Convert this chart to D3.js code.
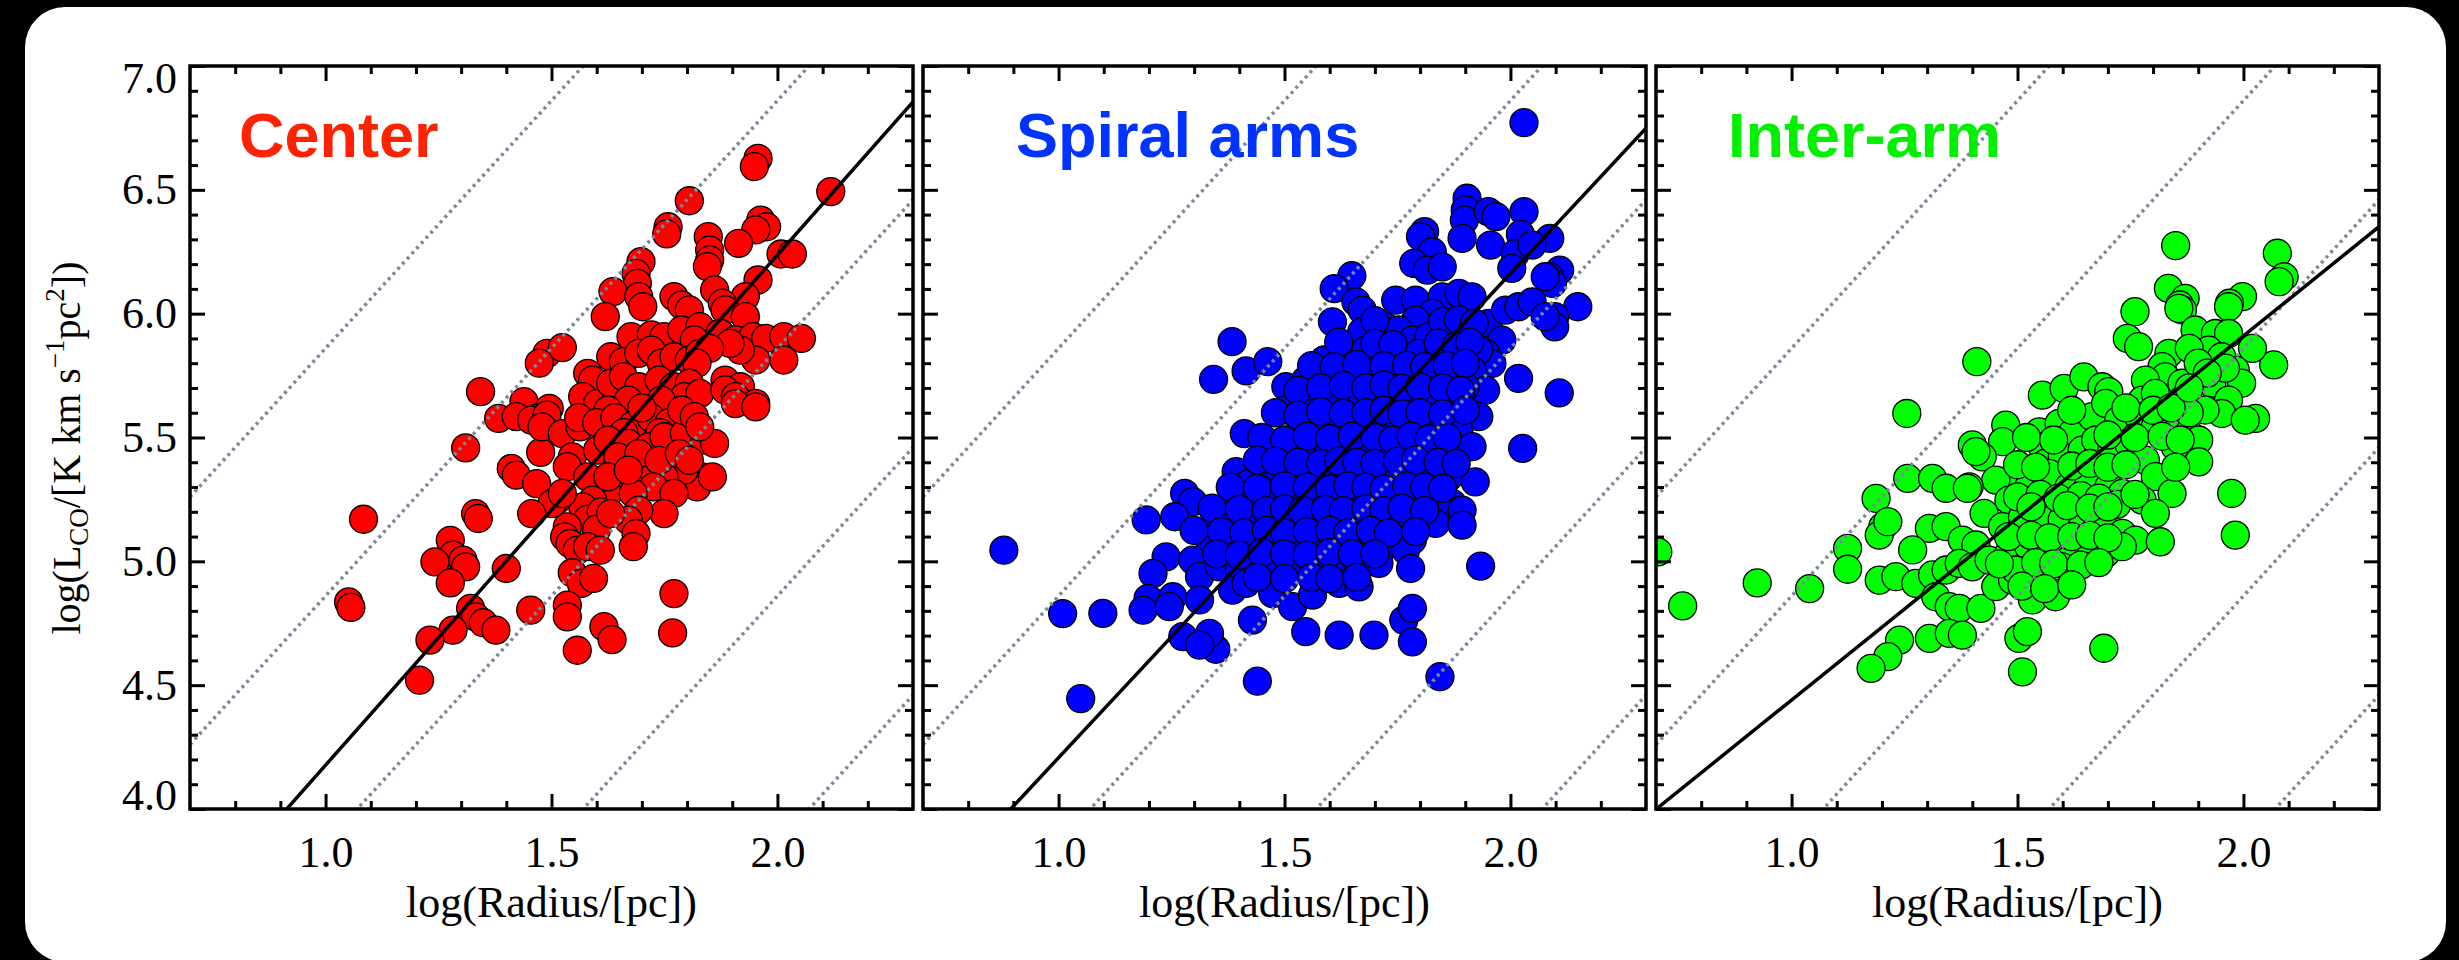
<!DOCTYPE html>
<html>
<head>
<meta charset="utf-8">
<script src="https://cdn.jsdelivr.net/npm/d3@7"></script>
<style>
  body { margin: 0; background: #000; }
</style>
</head>
<body>
<div id="chart"></div>
<script>
// ---- data: [log R, log L_CO] ----
const centerPts = [
  [1.957,6.627],[1.949,6.594],[2.118,6.493],[1.805,6.456],[1.758,6.351],[1.755,6.322],[1.963,6.378],[1.976,6.351],
  [1.952,6.338],[1.914,6.284],[1.847,6.311],[1.850,6.257],[1.850,6.217],[1.845,6.190],[2.008,6.241],[2.033,6.241],
  [1.698,6.210],[1.687,6.163],[1.690,6.122],[1.957,6.136],[1.861,6.096],[1.636,6.089],[1.693,6.069],[1.702,6.028],
  [1.929,6.069],[1.878,6.042],[1.884,6.015],[1.771,6.069],[1.788,6.035],[1.805,6.015],[1.619,5.988],[1.929,5.988],
  [1.676,5.907],[1.721,5.914],[1.749,5.907],[1.788,5.934],[1.828,5.948],[1.816,5.894],[1.873,5.921],[1.907,5.894],
  [1.946,5.907],[1.974,5.900],[2.014,5.907],[2.053,5.900],[2.014,5.813],[1.952,5.813],[1.918,5.853],[1.895,5.880],
  [1.631,5.826],[1.659,5.806],[1.693,5.840],[1.721,5.853],[1.743,5.800],[1.771,5.826],[1.805,5.813],[1.828,5.840],
  [1.850,5.860],[1.822,5.800],[1.490,5.840],[1.473,5.800],[1.524,5.863],
  [1.580,5.759],[1.591,5.732],[1.569,5.665],[1.602,5.638],[1.631,5.719],[1.659,5.746],[1.693,5.705],[1.738,5.732],
  [1.771,5.705],[1.805,5.719],[1.794,5.665],[1.828,5.678],[1.743,5.651],[1.670,5.651],[1.625,5.611],
  [1.884,5.732],[1.918,5.705],[1.884,5.692],[1.907,5.665],[1.952,5.638],[1.343,5.685],
  [1.439,5.645],[1.495,5.618],[1.383,5.577],[1.422,5.584],[1.467,5.577],[1.484,5.544],[1.310,5.458],[1.476,5.440],
  [1.907,5.637],[1.952,5.624],[1.456,5.570],[1.490,5.590],[1.479,5.543],[1.524,5.516],[1.563,5.543],
  [1.560,5.580],[1.600,5.560],[1.640,5.580],[1.680,5.550],[1.720,5.580],[1.760,5.560],[1.700,5.620],[1.660,5.520],[1.740,5.520],
  [1.411,5.375],[1.422,5.348],
  [1.546,5.422],[1.535,5.382],[1.580,5.341],[1.602,5.449],[1.625,5.489],[1.670,5.476],[1.715,5.462],[1.749,5.503],
  [1.794,5.516],[1.839,5.489],[1.833,5.341],[1.822,5.301],[1.794,5.368],[1.749,5.341],[1.693,5.382],[1.659,5.314],
  [1.625,5.274],[1.591,5.247],[1.569,5.220],[1.647,5.422],[1.693,5.435],[1.738,5.408],[1.783,5.435],[1.726,5.301],
  [1.681,5.274],[1.771,5.274],[1.625,5.341],[1.670,5.368],[1.805,5.408],[1.861,5.476],[1.856,5.341],
  [1.788,5.611],[1.816,5.584],[1.828,5.543],
  [1.467,5.314],[1.512,5.247],[1.501,5.233],[1.456,5.193],[1.524,5.274],[1.580,5.170],[1.610,5.200],[1.600,5.130],
  [1.749,5.193],[1.332,5.193],[1.338,5.173],[1.693,5.207],[1.670,5.166],[1.631,5.193],[1.084,5.170],
  [1.535,5.139],[1.529,5.099],[1.541,5.072],[1.557,5.045],[1.580,5.059],[1.608,5.045],[1.687,5.112],[1.681,5.059],
  [1.276,5.085],[1.282,5.025],[1.242,4.998],[1.304,5.005],[1.310,4.978],[1.276,4.913],[1.400,4.971],
  [1.546,4.954],[1.566,4.911],[1.593,4.931],[1.771,4.870],[1.051,4.836],[1.056,4.814],
  [1.321,4.810],[1.332,4.776],[1.349,4.752],[1.377,4.722],[1.282,4.722],[1.231,4.682],[1.454,4.803],
  [1.535,4.823],[1.535,4.776],[1.616,4.736],[1.634,4.684],[1.768,4.711],[1.557,4.641],[1.208,4.520]
];

const spiralPts = [
  [2.030,6.771],[1.904,6.466],[1.900,6.419],[1.898,6.378],[1.951,6.412],[1.968,6.392],[2.030,6.412],[1.810,6.331],
  [2.022,6.320],[2.087,6.304],[2.109,6.176],[2.087,6.149],[2.093,6.122],[2.149,6.028],[2.098,5.988],[2.098,5.947],
  [2.108,5.680],[0.879,5.045],[1.009,4.789],[1.440,4.516],[1.844,4.534],[1.049,4.446],[1.348,4.645],
  [1.801,6.311],[1.827,6.250],[1.786,6.203],[1.816,6.176],[1.849,6.189],[1.893,6.304],[1.956,6.277],[2.011,6.243],
  [2.003,6.183],[2.048,6.277],[2.077,6.149],
  [1.384,5.887],[1.343,5.735],[1.415,5.769],[1.463,5.806],[1.649,6.153],[1.610,6.101],[1.658,6.048],[1.672,6.014],
  [1.606,5.967],[1.671,5.927],
  [1.746,6.055],[1.790,6.055],[1.849,6.068],[1.886,6.082],[1.915,6.068],[1.827,6.001],[1.790,5.974],[1.952,5.961],
  [1.989,6.014],[2.018,6.028],[2.048,6.048],[2.077,5.988],[1.981,5.893],[1.945,5.840],[1.959,5.799],[2.018,5.739],
  [2.027,5.456],
  [1.724,5.947],[1.753,5.934],[1.783,5.893],[1.819,5.907],[1.864,5.934],[1.900,5.907],[1.930,5.853],
  [1.588,5.813],[1.636,5.826],[1.680,5.853],[1.716,5.866],[1.753,5.826],[1.797,5.840],[1.842,5.853],[1.886,5.826],
  [1.915,5.772],[1.945,5.691],
  [1.503,5.705],[1.547,5.732],[1.621,5.772],[1.658,5.745],[1.702,5.772],[1.739,5.759],[1.783,5.745],[1.827,5.759],
  [1.871,5.745],[1.900,5.705],
  [1.503,5.611],[1.555,5.597],[1.606,5.665],[1.650,5.638],[1.694,5.665],[1.739,5.665],[1.783,5.651],[1.827,5.624],
  [1.871,5.651],[1.930,5.584],
  [1.474,5.476],[1.525,5.503],[1.569,5.530],[1.621,5.543],[1.665,5.557],[1.709,5.557],[1.753,5.530],[1.797,5.557],
  [1.842,5.530],[1.886,5.530],[1.915,5.463],
  [1.411,5.516],[1.503,5.395],[1.547,5.422],[1.599,5.449],[1.643,5.463],[1.687,5.449],[1.724,5.409],[1.768,5.449],
  [1.812,5.463],[1.856,5.449],
  [1.393,5.362],[1.422,5.315],[1.459,5.341],[1.488,5.368],[1.532,5.341],[1.577,5.368],[1.621,5.315],[1.665,5.355],
  [1.709,5.315],[1.753,5.341],[1.797,5.368],[1.834,5.368],[1.864,5.341],[1.922,5.321],
  [1.393,5.261],[1.429,5.220],[1.474,5.274],[1.518,5.247],[1.562,5.261],[1.606,5.247],[1.650,5.288],[1.694,5.234],
  [1.739,5.274],[1.783,5.261],[1.827,5.261],[1.871,5.234],[1.893,5.207],
  [1.279,5.274],[1.297,5.241],[1.194,5.167],[1.257,5.180],[1.349,5.180],[1.393,5.180],[1.437,5.153],[1.481,5.180],
  [1.532,5.153],[1.577,5.180],[1.621,5.167],[1.665,5.180],[1.709,5.153],[1.753,5.180],[1.797,5.180],[1.834,5.153],
  [1.893,5.146],
  [1.334,5.086],[1.385,5.099],[1.429,5.059],[1.474,5.072],[1.518,5.086],[1.562,5.059],[1.606,5.099],[1.650,5.072],
  [1.694,5.099],[1.739,5.072],[1.783,5.086],
  [1.238,5.018],[1.209,4.951],[1.297,5.005],[1.312,4.938],[1.356,4.978],[1.400,4.965],[1.444,4.992],[1.488,4.992],
  [1.532,4.978],[1.577,4.992],[1.621,4.978],[1.665,4.978],[1.709,4.992],[1.768,5.045],[1.779,4.971],[1.934,4.981],
  [1.198,4.850],[1.187,4.803],[1.253,4.857],[1.245,4.817],[1.312,4.844],[1.385,4.884],[1.415,4.911],[1.474,4.870],
  [1.518,4.817],[1.562,4.864],[1.621,4.911],[1.665,4.897],
  [1.098,4.790],[1.429,4.763],[1.547,4.716],[1.621,4.702],[1.698,4.702],[1.764,4.763],[1.783,4.810],[1.783,4.675],
  [1.275,4.696],[1.334,4.709],[1.312,4.662],
  // dense core, in between the rows above
  [1.700,5.972],[1.850,5.968],[1.885,5.975],[1.920,5.962],
  [1.620,5.885],[1.700,5.880],[1.740,5.875],[1.840,5.882],[1.880,5.870],[1.910,5.885],
  [1.560,5.790],[1.610,5.785],[1.660,5.795],[1.720,5.790],[1.770,5.792],[1.810,5.786],[1.860,5.790],[1.900,5.800],
  [1.530,5.690],[1.580,5.700],[1.630,5.710],[1.680,5.700],[1.720,5.712],[1.760,5.698],[1.800,5.705],[1.850,5.700],[1.890,5.690],
  [1.480,5.600],[1.530,5.590],[1.580,5.605],[1.630,5.598],[1.680,5.600],[1.720,5.610],[1.760,5.595],[1.800,5.600],[1.850,5.595],[1.900,5.610],
  [1.450,5.500],[1.500,5.490],[1.550,5.505],[1.600,5.495],[1.650,5.505],[1.700,5.500],[1.740,5.490],[1.780,5.505],[1.820,5.495],[1.860,5.500],
  [1.440,5.410],[1.480,5.405],[1.530,5.400],[1.580,5.395],[1.620,5.405],[1.660,5.400],[1.700,5.395],[1.750,5.405],[1.790,5.410],[1.840,5.400],[1.880,5.395],
  [1.380,5.300],[1.440,5.295],[1.500,5.305],[1.550,5.300],[1.600,5.292],[1.640,5.305],[1.680,5.300],[1.720,5.292],[1.770,5.305],[1.810,5.300],[1.850,5.295],
  [1.340,5.215],[1.400,5.210],[1.460,5.205],[1.500,5.212],[1.540,5.205],[1.590,5.210],[1.630,5.205],[1.680,5.212],[1.720,5.205],[1.760,5.215],[1.810,5.205],
  [1.300,5.125],[1.360,5.120],[1.410,5.115],[1.460,5.125],[1.500,5.115],[1.550,5.120],[1.600,5.125],[1.640,5.115],[1.690,5.125],[1.730,5.115],[1.790,5.120],
  [1.350,5.030],[1.400,5.025],[1.450,5.035],[1.500,5.030],[1.550,5.025],[1.600,5.035],[1.650,5.030],[1.700,5.030],
  [1.440,4.935],[1.500,4.930],[1.560,4.935],[1.600,4.930],[1.660,4.935]
];

const interPts = [
  [1.850,6.275],[2.075,6.244],[2.090,6.149],[2.079,6.129],[1.834,6.102],[1.871,6.062],[1.859,6.035],[1.865,6.015],
  [1.998,6.069],[1.969,6.042],[2.067,5.793],[2.027,5.577],[2.020,5.860],[0.704,5.038],[0.759,4.820],[0.924,4.913],
  [1.040,4.890],
  [1.410,5.806],[1.255,5.597],[1.760,6.008],[1.857,6.021],[1.967,6.028],[1.743,5.900],[1.768,5.867],[1.893,5.934],
  [1.938,5.920],[1.967,5.920],[1.835,5.840],[1.820,5.786],[1.827,5.745],[1.864,5.719],[1.923,5.853],[1.952,5.826],
  [1.982,5.772],[1.996,5.719],[1.930,5.719],[1.967,5.651],[1.952,5.597],[1.915,5.611],[2.004,5.570],
  [1.555,5.671],[1.603,5.698],[1.647,5.745],[1.687,5.705],[1.702,5.685],[1.783,5.732],[1.776,5.651],[1.805,5.678],
  [1.864,5.651],
  [1.474,5.550],[1.467,5.483],[1.400,5.470],[1.422,5.422],[1.408,5.443],[1.548,5.523],[1.592,5.557],[1.621,5.517],
  [1.665,5.584],[1.695,5.638],[1.724,5.570],[1.768,5.584],[1.805,5.544],[1.842,5.570],[1.879,5.517],[1.901,5.490],
  [1.901,5.402],[1.849,5.463],
  [1.496,5.355],[1.452,5.328],[1.393,5.301],[1.555,5.463],[1.562,5.396],[1.599,5.422],[1.643,5.449],[1.673,5.490],
  [1.709,5.449],[1.746,5.476],[1.783,5.409],[1.805,5.342],[1.842,5.274],
  [1.257,5.335],[1.312,5.335],[1.342,5.295],[1.389,5.295],[1.426,5.194],[1.481,5.247],[1.525,5.301],[1.570,5.355],
  [1.614,5.301],[1.658,5.315],[1.702,5.301],[1.732,5.274],[1.776,5.247],[1.805,5.194],[1.974,5.274],
  [1.187,5.254],[1.202,5.140],[1.194,5.106],[1.213,5.160],[1.305,5.133],[1.342,5.140],[1.378,5.086],[1.408,5.066],
  [1.467,5.140],[1.511,5.180],[1.555,5.194],[1.599,5.167],[1.643,5.140],[1.687,5.167],[1.732,5.113],[1.761,5.086],
  [1.816,5.079],[1.982,5.106],
  [1.124,5.052],[1.124,4.968],[1.194,4.924],[1.231,4.938],[1.268,5.046],[1.275,4.911],[1.312,4.945],[1.342,4.965],
  [1.371,4.992],[1.400,4.978],[1.437,5.005],[1.481,5.032],[1.525,5.059],[1.570,5.032],[1.614,5.005],[1.665,5.046],
  [1.695,5.032],[1.732,5.059],
  [1.319,4.857],[1.349,4.817],[1.371,4.810],[1.419,4.810],[1.452,4.898],[1.489,4.924],[1.533,4.844],[1.584,4.857],
  [1.496,4.965],[1.555,4.951],[1.599,4.978],
  [1.239,4.682],[1.213,4.615],[1.176,4.568],[1.305,4.689],[1.349,4.709],[1.378,4.702],[1.503,4.689],[1.522,4.716],
  [1.691,4.649],[1.511,4.554],
  // dense core
  [1.620,5.610],[1.740,5.620],[1.800,5.610],[1.880,5.600],[1.840,5.620],
  [1.520,5.500],[1.580,5.490],[1.700,5.510],[1.760,5.500],[1.820,5.505],[1.860,5.490],
  [1.500,5.390],[1.540,5.380],[1.620,5.385],[1.660,5.395],[1.700,5.380],[1.740,5.390],[1.850,5.380],
  [1.500,5.260],[1.550,5.270],[1.590,5.255],[1.640,5.265],[1.680,5.255],[1.720,5.230],[1.760,5.270],
  [1.530,5.220],[1.610,5.225],[1.660,5.215],[1.700,5.220],
  [1.480,5.100],[1.530,5.105],[1.570,5.095],[1.620,5.100],[1.660,5.105],[1.700,5.095],
  [1.460,4.990],[1.540,4.995],[1.580,4.990],[1.640,4.985],[1.680,4.995],
  [1.510,4.900],[1.560,4.890],[1.620,4.905],
  [1.880,5.860],[1.900,5.800],[1.960,5.780],[1.920,5.760],[1.880,5.700]
];

const panelNames = ['Center', 'Spiral arms', 'Inter-arm'];
const fitSlopes = [2.06, 1.955, 1.47];
const fitIntercepts = [2.117, 2.252, 2.97];
const constIntercepts = [-0.14, 0.86, 1.86, 2.86, 3.86]; // dotted lines, slope 2
const xMajor = [1.0, 1.5, 2.0];
const yMajor = [4.0, 4.5, 5.0, 5.5, 6.0, 6.5, 7.0];

// ---- layout ----
const W = 723, H = 743, TOP = 66;
const panelLeft = [190, 923, 1656];
const labelDx = [49, 93, 72];
const fills = ['#ff0000', '#0000ff', '#00ff00'];
const textColors = ['#ff2200', '#0033ff', '#00f000'];
const serif = 'Liberation Serif, Times New Roman, serif';

const svg = d3.select('#chart').append('svg').attr('width', 2459).attr('height', 960);
svg.append('rect').attr('width', 2459).attr('height', 960).attr('fill', '#000');
svg.append('rect').attr('x', 25).attr('y', 7).attr('width', 2421).attr('height', 955)
  .attr('rx', 40).attr('fill', '#fff');

const x = d3.scaleLinear().domain([0.7, 2.3]).range([0, W]);
const y = d3.scaleLinear().domain([4.0, 7.0]).range([H, 0]);

const xMinor = d3.range(8, 23).map(d => d / 10).filter(v => !xMajor.some(m => Math.abs(m - v) < 1e-6));
const yMinor = d3.range(40, 71).map(d => d / 10).filter(v => !yMajor.some(m => Math.abs(m - v) < 1e-6));

const line = d3.line().x(d => x(d[0])).y(d => y(d[1]));
const panels = [centerPts, spiralPts, interPts];

// axis factories: bottom, top, left, right
const axisDefs = [
  [() => d3.axisBottom(x), `translate(0,${H})`, xMajor, xMinor],
  [() => d3.axisTop(x), 'translate(0,0)', xMajor, xMinor],
  [() => d3.axisLeft(y), 'translate(0,0)', yMajor, yMinor],
  [() => d3.axisRight(y), `translate(${W},0)`, yMajor, yMinor]
];

panels.forEach((pts, k) => {
  const g = svg.append('g').attr('transform', `translate(${panelLeft[k]},${TOP})`);
  g.append('clipPath').attr('id', 'clip' + k).append('rect').attr('width', W).attr('height', H);
  const plot = g.append('g').attr('clip-path', `url(#clip${k})`);

  plot.selectAll('circle').data(pts).join('circle')
    .attr('cx', d => x(d[0])).attr('cy', d => y(d[1])).attr('r', 14)
    .attr('fill', fills[k]).attr('stroke', '#000').attr('stroke-width', 1.3);

  constIntercepts.forEach(b => {
    plot.append('path')
      .attr('d', line([[0.7, 2 * 0.7 + b], [2.3, 2 * 2.3 + b]]))
      .attr('stroke', '#7a8898').attr('stroke-width', 3.5)
      .attr('stroke-dasharray', '3 4').attr('fill', 'none');
  });

  plot.append('path')
    .attr('d', line([[0.7, fitSlopes[k] * 0.7 + fitIntercepts[k]], [2.3, fitSlopes[k] * 2.3 + fitIntercepts[k]]]))
    .attr('stroke', '#000').attr('stroke-width', 3.5).attr('fill', 'none');

  axisDefs.forEach(([mk, tr, major, minor], i) => {
    const gm = g.append('g').attr('transform', tr)
      .call(mk().tickValues(minor).tickSize(-8).tickFormat(''));
    gm.select('.domain').remove();
    gm.selectAll('line').attr('stroke-width', 3);

    const showLabels = i === 0 || (i === 2 && k === 0);
    const ga = g.append('g').attr('transform', tr)
      .call(mk().tickValues(major).tickSize(-15)
        .tickPadding(i === 0 ? 27 : 13)
        .tickFormat(showLabels ? d3.format('.1f') : ''))
      .attr('font-family', serif).attr('font-size', 44);
    ga.select('.domain').remove();
    ga.selectAll('line').attr('stroke-width', 3);
    ga.selectAll('text').attr('fill', '#000');
    if (i === 2) {
      ga.selectAll('text').filter(d => d === 7).attr('y', 12);
      ga.selectAll('text').filter(d => d === 4).attr('y', -14);
    }
  });

  g.append('rect').attr('width', W).attr('height', H)
    .attr('fill', 'none').attr('stroke', '#000').attr('stroke-width', 3.5);

  g.append('text').attr('x', labelDx[k]).attr('y', 91)
    .attr('font-family', 'Liberation Sans, Arial, sans-serif').attr('font-weight', 'bold')
    .attr('font-size', 63).attr('fill', textColors[k]).text(panelNames[k]);

  g.append('text').attr('x', W / 2).attr('y', 851).attr('text-anchor', 'middle')
    .attr('font-family', serif).attr('font-size', 44).text('log(Radius/[pc])');
});

// y axis title
const yt = svg.append('text').attr('transform', 'translate(80,448) rotate(-90)')
  .attr('text-anchor', 'middle').attr('font-family', serif).attr('font-size', 40);
yt.append('tspan').text('log(L');
yt.append('tspan').attr('font-size', 27).attr('dy', 8).text('CO');
yt.append('tspan').attr('dy', -8).text('/[K km s');
yt.append('tspan').attr('font-size', 27).attr('dy', -16).text('\u22121');
yt.append('tspan').attr('dy', 16).text('pc');
yt.append('tspan').attr('font-size', 27).attr('dy', -16).text('2');
yt.append('tspan').attr('dy', 16).text('])');
</script>
</body>
</html>
